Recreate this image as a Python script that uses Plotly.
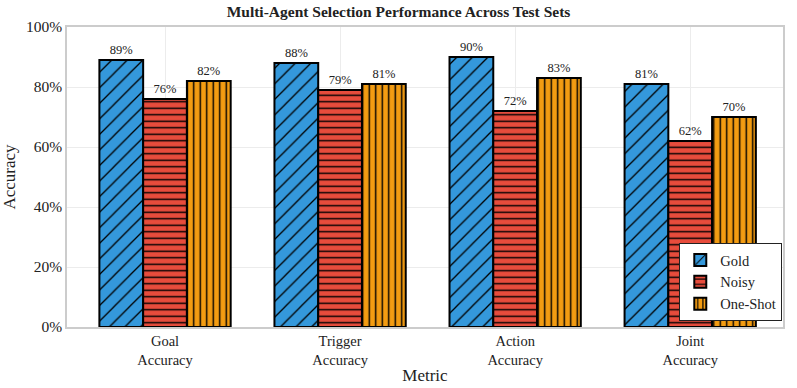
import plotly.graph_objects as go

# Accuracy per metric and test set
metrics = ["Goal<br>Accuracy", "Trigger<br>Accuracy", "Action<br>Accuracy", "Joint<br>Accuracy"]
gold = [89, 88, 90, 81]
noisy = [76, 79, 72, 62]
one_shot = [82, 81, 83, 70]

series = [
    ("Gold", gold, "#3498db", "/", 11, 0.12),
    ("Noisy", noisy, "#e74c3c", "-", 6.5, 0.22),
    ("One-Shot", one_shot, "#f39c12", "|", 6.5, 0.22),
]

font_family = "Times New Roman, Liberation Serif, serif"

fig = go.Figure()

for name, vals, color, shape, size, solidity in series:
    fig.add_trace(go.Bar(
        x=metrics, y=vals, name=name,
        marker=dict(
            color=color,
            line=dict(color="black", width=2),
            pattern=dict(shape=shape, fgcolor="black", bgcolor=color,
                         size=size, solidity=solidity, fillmode="replace"),
        ),
        text=[f"{v}%" for v in vals],
        textposition="outside",
        textfont=dict(size=12.5, color="#222222", family=font_family),
        cliponaxis=False,
    ))

fig.update_layout(
    title=dict(text="<b>Multi-Agent Selection Performance Across Test Sets</b>",
               x=0.5, xanchor="center", y=0.985, yanchor="top",
               font=dict(size=15.5, color="#222222", family=font_family)),
    width=797, height=388,
    margin=dict(l=67, r=14, t=27, b=61),
    font=dict(family=font_family, size=14, color="#222222"),
    barmode="group",
    bargap=0.25,
    bargroupgap=0,
    plot_bgcolor="white",
    paper_bgcolor="white",
    xaxis=dict(
        title=dict(text="Metric", font=dict(size=17), standoff=2),
        showgrid=True, gridcolor="#ececec", gridwidth=1,
        showline=True, linecolor="#cccccc", linewidth=1.5, mirror=True,
        ticks="", tickfont=dict(size=14.5),
        range=[-0.56, 3.53], automargin=False,
    ),
    yaxis=dict(
        title=dict(text="Accuracy", font=dict(size=17), standoff=10),
        range=[0, 100],
        tickvals=[0, 20, 40, 60, 80, 100],
        ticktext=["0%", "20%", "40%", "60%", "80%", "100%"],
        showgrid=True, gridcolor="#ececec", gridwidth=1,
        showline=True, linecolor="#cccccc", linewidth=1.5, mirror=True,
        ticks="", tickfont=dict(size=15.5), zeroline=False, automargin=False,
    ),
    legend=dict(
        x=0.999, y=0.02, xanchor="right", yanchor="bottom",
        bgcolor="white", bordercolor="#222222", borderwidth=1,
        font=dict(size=14.5, family=font_family),
        tracegroupgap=0,
    ),
    showlegend=True,
)

# drop the browser's default page margin so the figure sits at the corner
fig.write_html("out.html", config={"displayModeBar": False},
               post_script="document.body.style.margin='0';")
